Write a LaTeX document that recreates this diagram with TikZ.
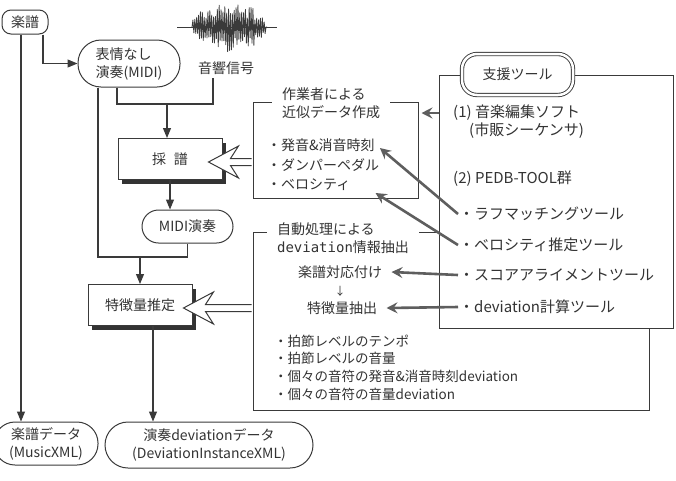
\documentclass[tikz,border=0pt]{standalone}
\usepackage{fontspec}
\setmainfont{Noto Sans CJK JP}
\setmonofont{DejaVu Sans Mono}
\usetikzlibrary{arrows.meta,calc,shadows}

\definecolor{inkline}{HTML}{3A3A3A}
\definecolor{inktext}{HTML}{333333}
\definecolor{inktool}{HTML}{5E5E5E}

\tikzset{
  every node/.style={text=inktext, font=\fontsize{14}{18}\selectfont},
  flow/.style={draw=inkline, line width=1.1pt, -{Triangle[length=10pt,width=8pt]}},
  link/.style={draw=inkline, line width=1.1pt},
  pill/.style={draw=inkline, line width=1pt, fill=white, rounded corners=#1, inner sep=2pt},
  pill/.default=10pt,
  procbox/.style={draw=inkline, line width=1pt, fill=white,
    minimum width=104pt, minimum height=41pt,
    drop shadow={shadow xshift=4pt, shadow yshift=-4pt, fill=black!80, opacity=1}},
  frame/.style={draw=inkline, line width=1pt, fill=white},
  caption/.style={fill=white, align=left, inner xsep=10pt, inner ysep=1pt},
  item/.style={anchor=west, inner sep=1pt},
  smallitem/.style={item, font=\fontsize{13.5}{17}\selectfont},
  toolitem/.style={item, font=\fontsize{15}{18}\selectfont},
  toolarrow/.style={draw=inktool, line width=2.6pt, -{Stealth[length=11pt,width=11pt,inset=4pt]}},
  hollow/.style={draw=inkline, line width=1pt, fill=white, line join=miter}
}

\begin{document}
\begin{tikzpicture}[x=1pt, y=-1pt]
  \useasboundingbox (0,0) rectangle (676,480);

  % main flow
  \node[pill=9pt, minimum width=46pt, minimum height=24pt] (gakufu) at (25,22) {楽譜};
  \node[pill=23pt, minimum width=102pt, minimum height=47pt, align=left] (hyojo) at (129,63.5) {表情なし\\演奏(MIDI)};
  \node (onkyo) at (226,68) {音響信号};
  \node[procbox] (saifu) at (170,159) {採\hspace{8pt}譜};
  \node[pill=16.5pt, minimum width=91pt, minimum height=33pt] (midi) at (187.5,226.5) {MIDI演奏};
  \node[procbox] (tokucho) at (140,305) {特徴量推定};
  \node[pill=21pt, minimum width=104pt, minimum height=43pt, align=center] (gakudata) at (46,443.5) {楽譜データ\\(MusicXML)};
  \node[pill=23pt, minimum width=208pt, minimum height=46pt, align=center] (ensou) at (209,445) {演奏deviationデータ\\(DeviationInstanceXML)};

  % waveform
  \draw[inkline, line width=0.7pt] (177,27) -- (277,27);
  \pgfmathsetseed{11}
  \draw[inkline, line width=0.8pt, line join=round] (192,27)
    \foreach \k in {1,...,40} {
      -- ({192+75*(2*\k-1)/80}, {27-26*sqrt(abs(sin(4.5*\k)))*(0.4+0.6*rnd)})
      -- ({192+75*(2*\k)/80}, {27+26*sqrt(abs(sin(4.5*\k)))*(0.4+0.6*rnd)})
    };

  % connectors of the main flow
  \coordinate (mix) at (167,104);
  \coordinate (join) at (140,257);
  \coordinate (g0) at ([xshift=-4pt]gakufu.south);
  \coordinate (t0) at ([xshift=13pt]tokucho.south);
  \draw[flow] ([xshift=18pt]gakufu.south) |- (hyojo.west);
  \draw[flow] (g0) -- (g0 |- gakudata.north);
  \draw[link] ([xshift=-12pt]hyojo.south) |- (mix) -| ([xshift=-13pt]onkyo.south);
  \draw[flow] (mix) -- (mix |- saifu.north);
  \draw[flow] (saifu.south) -- (saifu.south |- midi.north);
  \draw[link] ([xshift=-31pt]hyojo.south) |- (join) -| (midi.south);
  \draw[flow] (join) -- (join |- tokucho.north);
  \draw[flow] (t0) -- (t0 |- ensou.north);

  % hand-made data
  \node[frame, minimum width=165pt, minimum height=96pt] (sagyo) at (335.5,150) {};
  \node[caption] (sagyotitle) at (331,103) {作業者による\\近似データ作成};
  \node[item] (hatsuon) at (266,145) {・発音\&消音時刻};
  \node[item] (damper) at (266,165) {・ダンパーペダル};
  \node[item] (velo) at (266,185) {・ベロシティ};

  % automatic extraction
  \node[frame, minimum width=396pt, minimum height=178pt] (jido) at (451,321) {};
  \node[caption] (jidotitle) at (343,238) {自動処理による\\\texttt{deviation}情報抽出};
  \node (taiou) at (340,272) {楽譜対応付け};
  \node[font=\fontsize{11}{13}\selectfont] (yaji) at (340,291) {↓};
  \node (chushutsu) at (342,308) {特徴量抽出};
  \node[smallitem] (tempo) at (273,341) {・拍節レベルのテンポ};
  \node[smallitem] (onryo) at (273,358) {・拍節レベルの音量};
  \node[smallitem] (jikoku) at (273,376) {・個々の音符の発音\&消音時刻deviation};
  \node[smallitem] (onpu) at (273,394) {・個々の音符の音量deviation};

  % tools
  \node[frame, minimum width=234pt, minimum height=253pt] (shien) at (556,201.5) {};
  \node[draw=inkline, line width=0.9pt, double, double distance=2.5pt, fill=white,
    rounded corners=15pt, minimum width=111pt, minimum height=41pt] (shientitle) at (517.5,74.5) {支援ツール};
  \node[toolitem] (soft) at (452,113) {(1) 音楽編集ソフト};
  \node[toolitem] (seq) at (468,131) {(市販シーケンサ)};
  \node[toolitem] (pedb) at (452,179) {(2) PEDB-TOOL群};
  \node[toolitem] (rough) at (458,214) {・ラフマッチングツール};
  \node[toolitem] (velest) at (458,245) {・ベロシティ推定ツール};
  \node[toolitem] (score) at (458,275) {・スコアアライメントツール};
  \node[toolitem] (devcalc) at (458,307) {・deviation計算ツール};

  % hollow arrows
  \coordinate (tipA) at ([xshift=-14pt, yshift=-3pt]saifu.east);
  \coordinate (tipB) at ([xshift=-9pt, yshift=-3pt]tokucho.east);
  \filldraw[hollow] ($(tipA -| sagyo.west)+(-0.8,-3.5)$) -- ($(tipA)+(22,-3.5)$) -- ($(tipA)+(30,-16)$) -- (tipA)
    -- ($(tipA)+(30,16)$) -- ($(tipA)+(22,3.5)$) -- ($(tipA -| sagyo.west)+(-0.8,3.5)$);
  \filldraw[hollow] ($(tipB -| jido.west)+(-0.8,-3.5)$) -- ($(tipB)+(22,-3.5)$) -- ($(tipB)+(30,-16)$) -- (tipB)
    -- ($(tipB)+(30,16)$) -- ($(tipB)+(22,3.5)$) -- ($(tipB -| jido.west)+(-0.8,3.5)$);

  % tool arrows
  \coordinate (sagyoE) at ([xshift=3pt]sagyo.east);
  \draw[toolarrow] (shien.west |- soft) -- (sagyoE |- soft);
  \draw[toolarrow] (rough.west) -- ($(hatsuon.east)+(4,3)$);
  \draw[toolarrow] (velest.west) -- ($(velo.east)+(24,8)$);
  \draw[toolarrow] (score.west) -- ([xshift=6pt]taiou.east);
  \draw[toolarrow] (devcalc.west) -- ([xshift=6pt]chushutsu.east);
\end{tikzpicture}
\end{document}
